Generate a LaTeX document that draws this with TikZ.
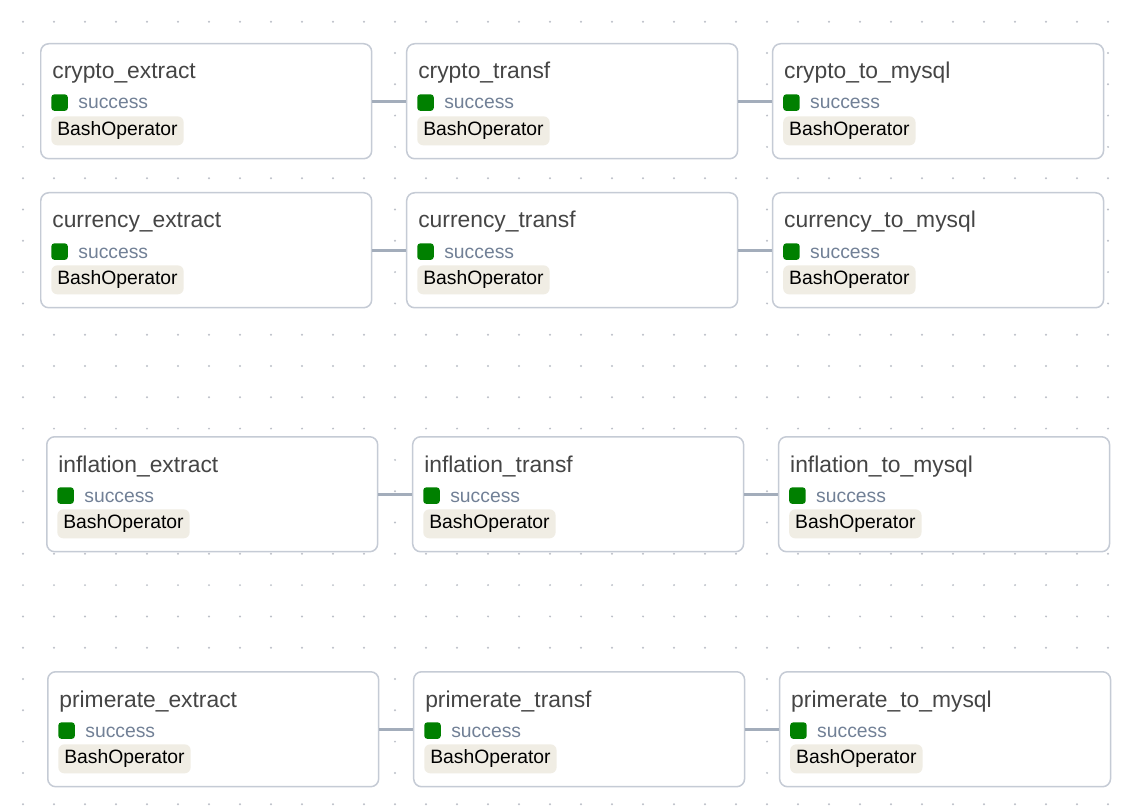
\documentclass[tikz,border=0pt]{standalone}
\usepackage{fontspec}
\setmainfont{Liberation Sans}
\usetikzlibrary{positioning,calc}

\definecolor{boxline}{HTML}{C5CBD5}
\definecolor{edgeline}{HTML}{A3ADBB}
\definecolor{titlegray}{HTML}{454545}
\definecolor{stategray}{HTML}{718096}
\definecolor{bashfill}{HTML}{F0EDE4}
\definecolor{okgreen}{HTML}{008000}
\definecolor{gridgray}{HTML}{BCC0C8}

\begin{document}
\begin{tikzpicture}[x=0.02cm, y=-0.02cm,
  task/.style={draw=boxline, line width=0.03cm, fill=white, rounded corners=0.16cm, minimum width=6.62cm, minimum height=2.3cm, anchor=north west, inner sep=0pt},
  title/.style={anchor=base west, inner sep=0pt, text=titlegray, font=\fontsize{13pt}{15pt}\selectfont},
  okbox/.style={anchor=north west, fill=okgreen, rounded corners=0.06cm, minimum size=0.33cm, inner sep=0pt},
  stat/.style={anchor=base west, inner sep=0pt, text=stategray, font=\fontsize{11pt}{13pt}\selectfont},
  bash/.style={anchor=north west, fill=bashfill, rounded corners=0.12cm, inner xsep=0.12cm, inner ysep=0pt, minimum height=0.58cm, text=black, font=\fontsize{11pt}{13pt}\selectfont},
  edge/.style={draw=edgeline, line width=0.06cm}]

  \fill[white] (0,0) rectangle (1130,811);
  \useasboundingbox (0,0) rectangle (1130,811);

  % dotted canvas
  \foreach \i in {0,...,35}
    \foreach \j in {0,...,25}
      \fill[gridgray] (23+31*\i, 21.7+31.3*\j) circle (0.022cm);

  % one row of tasks for each source
  \foreach \r/\x/\y in {crypto/40/43, currency/40/192, inflation/46/436, primerate/47/671} {
    \node[task] (\r-ex) at (\x,\y) {};
    \node[task, right=0.67cm of \r-ex] (\r-tr) {};
    \node[task, right=0.67cm of \r-tr] (\r-my) {};
    \draw[edge] (\r-ex) -- (\r-tr);
    \draw[edge] (\r-tr) -- (\r-my);
    \foreach \t/\s in {ex/extract, tr/transf, my/to\_mysql} {
      \node[title] (\r-\t-name) at ($(\r-\t.north west)+(12,36)$) {\r\_\s};
      \node[okbox] (\r-\t-ok) at ($(\r-\t.north west)+(11,51)$) {};
      \node[stat] (\r-\t-state) at ($(\r-\t.north west)+(38,66)$) {success};
      \node[bash] (\r-\t-op) at ($(\r-\t.north west)+(11,73)$) {BashOperator};
    }
  }
\end{tikzpicture}
\end{document}
